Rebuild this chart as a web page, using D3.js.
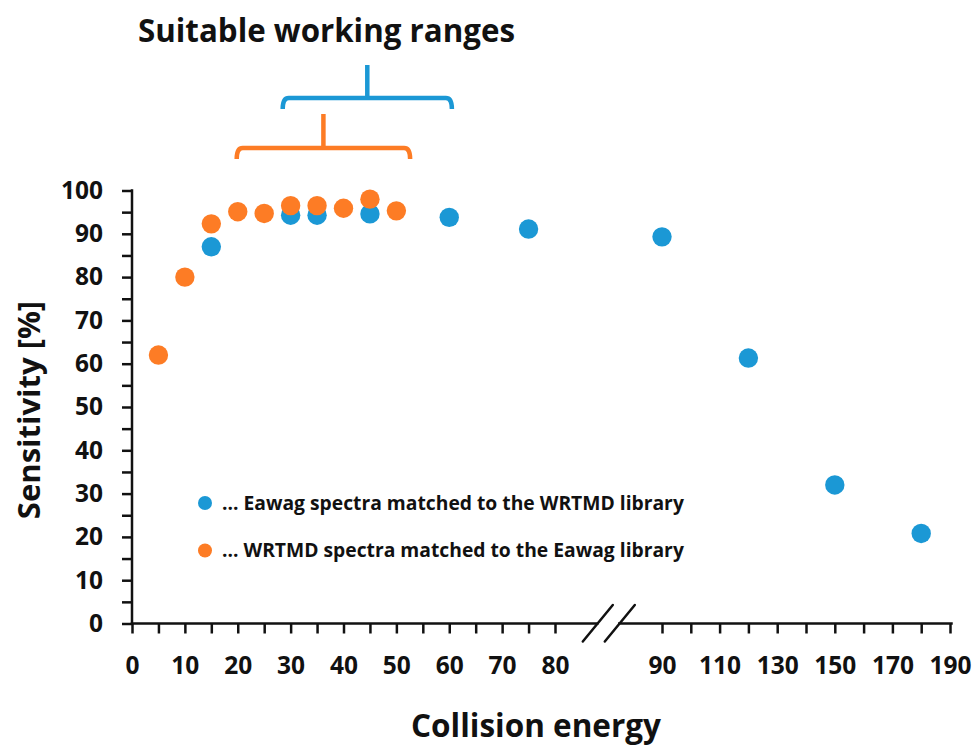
<!DOCTYPE html>
<html>
<head>
<meta charset="utf-8">
<script src="https://cdn.jsdelivr.net/npm/d3@7"></script>
<style>
  body { margin: 0; background: #fff; }
  svg { display: block; font-family: "Open Sans", sans-serif; font-weight: bold; }
</style>
</head>
<body>
<svg width="976" height="749"></svg>
<script>
// Eawag spectra matched to the WRTMD library (blue)
const blueEnergy = [15, 30, 35, 45, 60, 75, 90, 120, 150, 180];
const blueSens   = [87, 94.3, 94.3, 94.6, 93.8, 91.1, 89.3, 61.3, 32.0, 20.8];

// WRTMD spectra matched to the Eawag library (orange)
const orangeEnergy = [5, 10, 15, 20, 25, 30, 35, 40, 45, 50];
const orangeSens   = [62, 80, 92.3, 95.1, 94.7, 96.5, 96.5, 95.9, 98.0, 95.3];

// broken x axis: two parts
const leftTicks  = d3.range(0, 81, 5);
const rightTicks = d3.range(90, 191, 10);
const rightLabels = [90, 110, 130, 150, 170, 190];
const yTicks = d3.range(0, 101, 5);

// suitable working ranges (collision energy)
const blueRange   = [28.5, 60.5];
const orangeRange = [19.8, 52.6];

const legendLabels = ["… Eawag spectra matched to the WRTMD library",
                      "… WRTMD spectra matched to the Eawag library"];

const BLUE = "#1b98d5";
const ORANGE = "#fd7c25";
const INK = "#111";

const svg = d3.select("svg");

const x1 = d3.scaleLinear().domain([0, 80]).range([132, 555]);
const x2 = d3.scaleLinear().domain([90, 190]).range([662, 950]);
const y = d3.scaleLinear().domain([0, 100]).range([623.5, 190.5]);

const xPos = e => e <= 85 ? x1(e) : x2(e);

// axis line pieces around the break
const breakL = x1(88);
const breakR = breakL + 22;

const axes = svg.append("g");

// y axis
const yAxis = axes.append("g")
    .attr("transform", `translate(${x1(0)},0)`)
    .call(d3.axisLeft(y).tickValues(yTicks).tickSize(10).tickSizeOuter(0)
        .tickFormat(d => d % 10 === 0 ? d : ""));
yAxis.select(".domain").remove();
yAxis.selectAll("text").attr("x", -29).attr("font-size", 24.5).attr("font-family", "Open Sans").attr("font-weight", "bold").attr("fill", INK);

// x axis left part
const xAxis1 = axes.append("g")
    .attr("transform", `translate(0,${y(0)})`)
    .call(d3.axisBottom(x1).tickValues(leftTicks).tickSize(10).tickSizeOuter(0)
        .tickFormat(d => d % 10 === 0 ? d : ""));
xAxis1.select(".domain").remove();

// x axis right part
const xAxis2 = axes.append("g")
    .attr("transform", `translate(0,${y(0)})`)
    .call(d3.axisBottom(x2).tickValues(rightTicks).tickSize(10).tickSizeOuter(0)
        .tickFormat(d => rightLabels.includes(d) ? d : ""));
xAxis2.select(".domain").remove();

axes.selectAll(".tick line").attr("stroke", INK).attr("stroke-width", 2.5);
[xAxis1, xAxis2].forEach(a => a.selectAll("text")
    .attr("y", 33).attr("dy", "0.71em")
    .attr("font-size", 24.5).attr("font-family", "Open Sans").attr("font-weight", "bold").attr("fill", INK));

// axis lines
const lines = [
    [x1(0), y(0), x1(0), y(100)],
    [x1(0), y(0), breakL, y(0)],
    [breakR, y(0), x2(190) + 1.5, y(0)]
];
axes.selectAll("line.axis")
    .data(lines)
    .join("line")
    .attr("class", "axis")
    .attr("x1", d => d[0]).attr("y1", d => d[1])
    .attr("x2", d => d[2]).attr("y2", d => d[3])
    .attr("stroke", INK)
    .attr("stroke-width", 2.5)
    .attr("stroke-linecap", "square");

// the two slashes of the break
axes.selectAll("line.slash")
    .data([breakL, breakR])
    .join("line")
    .attr("class", "slash")
    .attr("x1", d => d - 14.5).attr("y1", y(0) + 18)
    .attr("x2", d => d + 15.5).attr("y2", y(0) - 18.5)
    .attr("stroke", INK)
    .attr("stroke-width", 2.5)
    .attr("stroke-linecap", "round");

// points: blue first, orange on top
const blue = blueEnergy.map((e, i) => ({e, v: blueSens[i]}));
const orange = orangeEnergy.map((e, i) => ({e, v: orangeSens[i]}));

svg.append("g").selectAll("circle")
    .data(blue)
    .join("circle")
    .attr("cx", d => xPos(d.e))
    .attr("cy", d => y(d.v))
    .attr("r", 9.7)
    .attr("fill", BLUE);

svg.append("g").selectAll("circle")
    .data(orange)
    .join("circle")
    .attr("cx", d => xPos(d.e))
    .attr("cy", d => y(d.v))
    .attr("r", 9.7)
    .attr("fill", ORANGE);

// brackets for the working ranges
function bracket(range, yBar, yTop, color){
    const a = x1(range[0]), b = x1(range[1]), m = (a + b) / 2;
    const hook = 11;
    svg.append("path")
        .attr("d", `M${a},${yBar + hook} Q${a},${yBar} ${a + 6},${yBar} L${b - 6},${yBar} Q${b},${yBar} ${b},${yBar + hook}
                    M${m},${yBar} L${m},${yTop}`)
        .attr("fill", "none")
        .attr("stroke", color)
        .attr("stroke-width", 4.5)
        .attr("stroke-linecap", "butt");
}
bracket(blueRange, 98, 65, BLUE);
bracket(orangeRange, 148, 114, ORANGE);

// title
svg.append("text")
    .attr("x", 326.5)
    .attr("y", 42)
    .attr("text-anchor", "middle")
    .attr("font-size", 31.3)
    .attr("fill", INK)
    .text("Suitable working ranges");

// axis titles
svg.append("text")
    .attr("x", 536)
    .attr("y", 737)
    .attr("text-anchor", "middle")
    .attr("font-size", 31.5)
    .attr("fill", INK)
    .text("Collision energy");

svg.append("text")
    .attr("transform", "translate(40,410) rotate(-90)")
    .attr("text-anchor", "middle")
    .attr("font-size", 31)
    .attr("fill", INK)
    .text("Sensitivity [%]");

// legend
const legend = svg.append("g").selectAll("g")
    .data(legendLabels)
    .join("g")
    .attr("transform", (d, i) => `translate(205,${503 + i * 47.5})`);

legend.append("circle")
    .attr("r", 7)
    .attr("fill", (d, i) => i === 0 ? BLUE : ORANGE);

legend.append("text")
    .attr("x", 17)
    .attr("y", 6.5)
    .attr("font-size", 19.3)
    .attr("fill", INK)
    .text(d => d);
</script>
</body>
</html>
